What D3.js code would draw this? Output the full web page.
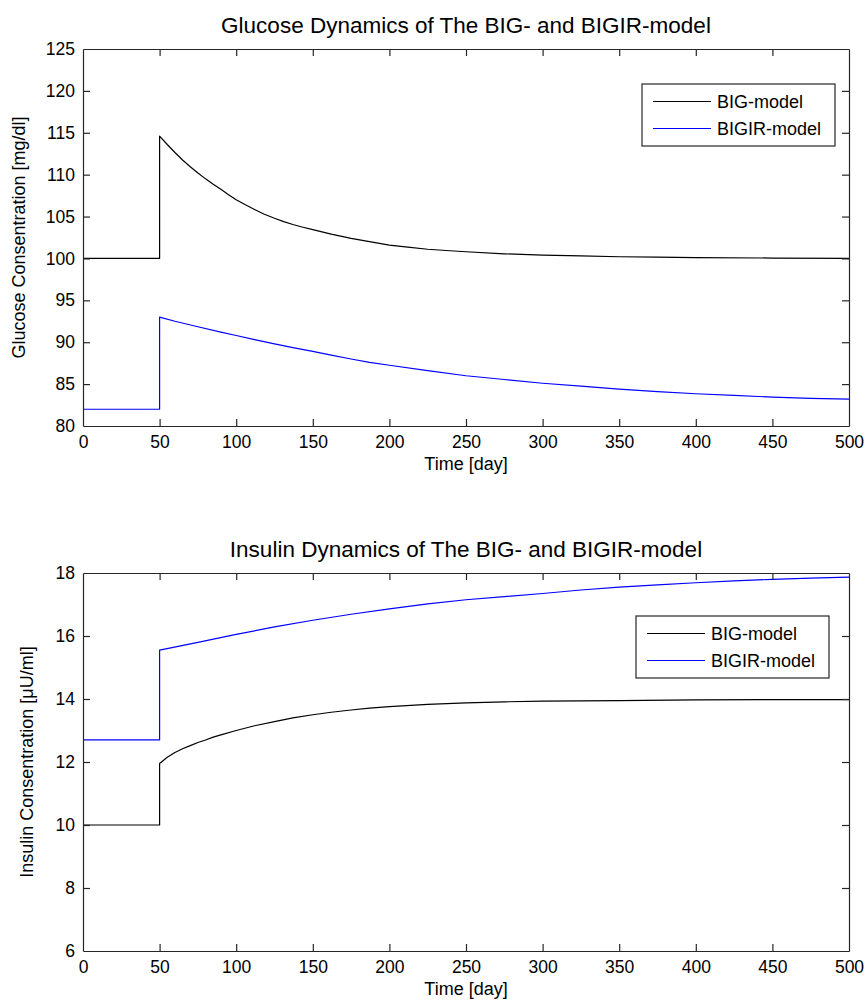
<!DOCTYPE html>
<html>
<head>
<meta charset="utf-8">
<script src="https://cdn.jsdelivr.net/npm/d3@7"></script>
<style>
  html, body { margin: 0; padding: 0; background: #fff; }
  svg text { font-family: "Liberation Sans", Arial, sans-serif; fill: #000; }
</style>
</head>
<body>
<svg id="fig" width="866" height="1002"></svg>
<script>
// Simulation time (days) and model responses
const glucoseBigT   = [0, 50, 50, 55, 60, 65, 70, 75, 80, 85, 90, 95, 100, 106, 112, 118, 125, 131, 137, 143, 150, 162, 175, 187, 200, 212, 225, 237, 250, 275, 300, 325, 350, 375, 400, 450, 500];
const glucoseBigV   = [100, 100, 114.6, 113.6, 112.65, 111.75, 110.95, 110.2, 109.5, 108.85, 108.25, 107.6, 107.0, 106.4, 105.85, 105.3, 104.8, 104.4, 104.05, 103.75, 103.45, 102.9, 102.4, 102.0, 101.6, 101.35, 101.1, 100.95, 100.8, 100.55, 100.4, 100.3, 100.2, 100.15, 100.1, 100.05, 100.0];
const glucoseBigirT = [0, 50, 50, 60, 75, 90, 100, 112, 125, 137, 150, 162, 175, 187, 200, 225, 250, 275, 300, 325, 350, 375, 400, 425, 450, 475, 500];
const glucoseBigirV = [82, 82, 93.0, 92.5, 91.85, 91.2, 90.8, 90.3, 89.8, 89.35, 88.9, 88.45, 88.0, 87.6, 87.25, 86.6, 86.0, 85.55, 85.1, 84.75, 84.4, 84.1, 83.85, 83.65, 83.45, 83.3, 83.2];

const insulinBigT   = [0, 50, 50, 55, 60, 65, 70, 75, 80, 85, 90, 100, 112, 125, 137, 150, 162, 175, 187, 200, 225, 250, 275, 300, 350, 400, 450, 500];
const insulinBigV   = [10, 10, 11.95, 12.15, 12.3, 12.42, 12.52, 12.62, 12.7, 12.79, 12.86, 13.0, 13.15, 13.28, 13.4, 13.5, 13.58, 13.65, 13.71, 13.76, 13.83, 13.88, 13.91, 13.93, 13.95, 13.97, 13.98, 13.98];
const insulinBigirT = [0, 50, 50, 75, 100, 125, 150, 175, 200, 225, 250, 275, 300, 325, 350, 375, 400, 425, 450, 475, 500];
const insulinBigirV = [12.7, 12.7, 15.55, 15.8, 16.05, 16.29, 16.5, 16.69, 16.86, 17.02, 17.15, 17.25, 17.35, 17.46, 17.55, 17.62, 17.69, 17.75, 17.8, 17.84, 17.87];

const timeTicks    = [0, 50, 100, 150, 200, 250, 300, 350, 400, 450, 500];
const glucoseTicks = [80, 85, 90, 95, 100, 105, 110, 115, 120, 125];
const insulinTicks = [6, 8, 10, 12, 14, 16, 18];

const seriesNames  = ["BIG-model", "BIGIR-model"];
const seriesColors = ["#000000", "#0000ff"];

const svg = d3.select("#fig");

function zip(t, v) { return t.map((d, i) => ({ t: d, v: v[i] })); }

function panel(opts) {
  const { left, right, top, bottom, yDomain, yTicks, title, yLabel, yLabelOffset, series, legend } = opts;
  const x = d3.scaleLinear().domain([0, 500]).range([left, right]);
  const y = d3.scaleLinear().domain(yDomain).range([bottom, top]);
  const g = svg.append("g");

  // series
  const line = d3.line().x(d => x(d.t)).y(d => y(d.v));
  series.forEach((s, i) => {
    g.append("path")
      .datum(s)
      .attr("d", line)
      .attr("fill", "none")
      .attr("stroke", seriesColors[i])
      .attr("stroke-width", 1.2)
      .attr("stroke-linejoin", "round");
  });

  // axes with inward ticks on all four sides
  const tickLen = 7;
  const axB = d3.axisBottom(x).tickValues(timeTicks).tickSizeInner(-tickLen).tickSizeOuter(0).tickPadding(10);
  const axT = d3.axisTop(x).tickValues(timeTicks).tickSizeInner(-tickLen).tickSizeOuter(0).tickFormat("");
  const axL = d3.axisLeft(y).tickValues(yTicks).tickSizeInner(-tickLen).tickSizeOuter(0).tickPadding(8);
  const axR = d3.axisRight(y).tickValues(yTicks).tickSizeInner(-tickLen).tickSizeOuter(0).tickFormat("");

  const gb = g.append("g").attr("transform", `translate(0,${bottom})`).call(axB);
  const gt = g.append("g").attr("transform", `translate(0,${top})`).call(axT);
  const gl = g.append("g").attr("transform", `translate(${left},0)`).call(axL);
  const gr = g.append("g").attr("transform", `translate(${right},0)`).call(axR);
  [gb, gt, gl, gr].forEach(a => {
    a.selectAll("path, line").attr("stroke", "#262626").attr("stroke-width", 1.2);
    a.selectAll("text").attr("font-size", 17.5).attr("fill", "#000");
  });
  // no tick marks on the frame corners
  gb.selectAll(".tick line").filter(d => d === 0 || d === 500).remove();
  gt.selectAll(".tick line").filter(d => d === 0 || d === 500).remove();
  gl.selectAll(".tick line").filter(d => d === yDomain[0] || d === yDomain[1]).remove();
  gr.selectAll(".tick line").filter(d => d === yDomain[0] || d === yDomain[1]).remove();

  // titles and labels
  g.append("text")
    .attr("x", (left + right) / 2).attr("y", top - 16)
    .attr("text-anchor", "middle").attr("font-size", 22.5)
    .text(title);
  g.append("text")
    .attr("x", (left + right) / 2).attr("y", bottom + 44)
    .attr("text-anchor", "middle").attr("font-size", 18)
    .text("Time [day]");
  g.append("text")
    .attr("transform", `translate(${left - yLabelOffset},${(top + bottom) / 2}) rotate(-90)`)
    .attr("text-anchor", "middle").attr("font-size", 18)
    .text(yLabel);

  // legend
  const lg = g.append("g").attr("transform", `translate(${legend.x},${legend.y})`);
  lg.append("rect")
    .attr("width", legend.w).attr("height", legend.h)
    .attr("fill", "#fff").attr("stroke", "#262626").attr("stroke-width", 1.2);
  seriesNames.forEach((name, i) => {
    const ly = 17.5 + i * 27;
    lg.append("line")
      .attr("x1", 11).attr("x2", 69).attr("y1", ly).attr("y2", ly)
      .attr("stroke", seriesColors[i]).attr("stroke-width", 1.2);
    lg.append("text")
      .attr("x", 75).attr("y", ly + 6.5)
      .attr("font-size", 18)
      .text(name);
  });
}

panel({
  left: 83, right: 849, top: 49, bottom: 426,
  yDomain: [80, 125], yTicks: glucoseTicks,
  title: "Glucose Dynamics of The BIG- and BIGIR-model",
  yLabel: "Glucose Consentration [mg/dl]",
  yLabelOffset: 58,
  series: [zip(glucoseBigT, glucoseBigV), zip(glucoseBigirT, glucoseBigirV)],
  legend: { x: 642, y: 84, w: 193, h: 62 }
});

panel({
  left: 83, right: 849, top: 573, bottom: 951,
  yDomain: [6, 18], yTicks: insulinTicks,
  title: "Insulin Dynamics of The BIG- and BIGIR-model",
  yLabel: "Insulin Consentration [\u03BCU/ml]",
  yLabelOffset: 50,
  series: [zip(insulinBigT, insulinBigV), zip(insulinBigirT, insulinBigirV)],
  legend: { x: 636, y: 616, w: 193, h: 62 }
});
</script>
</body>
</html>
